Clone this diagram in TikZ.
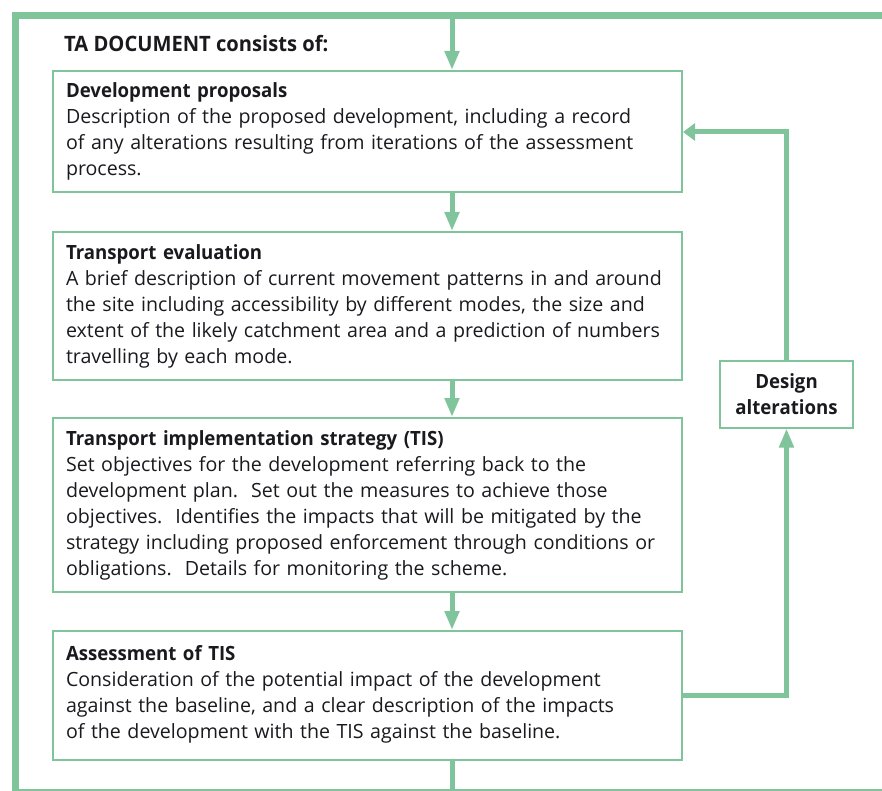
\documentclass[tikz,border=0pt]{standalone}
\usepackage{fontspec}
\setmainfont{Open Sans}[BoldFeatures={FakeStretch=0.95}]
\usetikzlibrary{arrows.meta,positioning}
\definecolor{tagreen}{RGB}{127,196,155}
\definecolor{tatext}{RGB}{25,25,30}
\tikzset{
  box/.style={draw=tagreen, line width=2pt, anchor=north west, text width=603pt, inner xsep=13pt, inner ysep=0pt,
    align=left, font=\fontsize{19.6}{26}\selectfont, text=tatext},
  flow/.style={draw=tagreen, line width=5pt, -{Triangle[length=19pt,width=14pt]}, color=tagreen},
  plain/.style={draw=tagreen, line width=5pt},
  frame/.style={draw=tagreen, line width=7pt}
}
\begin{document}
\begin{tikzpicture}[x=1pt,y=-1pt]
\useasboundingbox (0,0) rectangle (882,791);
% outer frame
\coordinate (ftr) at (900,15.5);
\coordinate (ftl) at (15.5,15.5);
\coordinate (fbl) at (15.5,792);
\coordinate (fbr) at (900,792);
\draw[frame] (ftr) -- (ftl) -- (fbl) -- (fbr);
\node[anchor=west, font=\fontsize{21.2}{26}\selectfont\bfseries, text=tatext, inner sep=0] (title) at (64,44) {TA DOCUMENT consists of:};

\node[box, minimum height=121pt] (b1) at (52,70) {\textbf{Development proposals}\\
Description of the proposed development, including a record\\
of any alterations resulting from iterations of the assessment\\
process.};
\node[box, minimum height=148pt] (b2) at (52,231) {\textbf{Transport evaluation}\\
A brief description of current movement patterns in and around\\
the site including accessibility by different modes, the size and\\
extent of the likely catchment area and a prediction of numbers\\
travelling by each mode.};
\node[box, minimum height=174pt] (b3) at (52,417) {\textbf{Transport implementation strategy (TIS)}\\
Set objectives for the development referring back to the\\
development plan.\ \ Set out the measures to achieve those\\
objectives.\ \ Identifies the impacts that will be mitigated by the\\
strategy including proposed enforcement through conditions or\\
obligations.\ \ Details for monitoring the scheme.};
\node[box, minimum height=129pt] (b4) at (52,630) {\textbf{Assessment of TIS}\\
Consideration of the potential impact of the development\\
against the baseline, and a clear description of the impacts\\
of the development with the TIS against the baseline.\\[-18pt]\mbox{}};

\node[draw=tagreen, line width=2pt, minimum width=133pt, minimum height=67pt, align=center,
  font=\fontsize{19.6}{26}\selectfont\bfseries, text=tatext, inner sep=0] (da) at (786.5,394) {Design\\alterations};

\coordinate (top) at (452,15.5);
\coordinate (bot) at (452,792);
\draw[flow] (top) -- (b1.north -| top);
\draw[flow] (b1.south -| top) -- (b2.north -| top);
\draw[flow] (b2.south -| top) -- (b3.north -| top);
\draw[flow] (b3.south -| top) -- (b4.north -| top);
\draw[plain] (b4.south -| top) -- (bot);

\coordinate (fb1) at (786.5,695);
\coordinate (fb2) at (786.5,132);
\draw[plain, -{Triangle[length=19pt,width=14pt]}] (b4.east |- fb1) -- (fb1) -- (da.south);
\draw[plain, -{Triangle[length=12pt,width=17pt]}] (da.north) -- (fb2) -- (b1.east |- fb2);
\end{tikzpicture}
\end{document}
